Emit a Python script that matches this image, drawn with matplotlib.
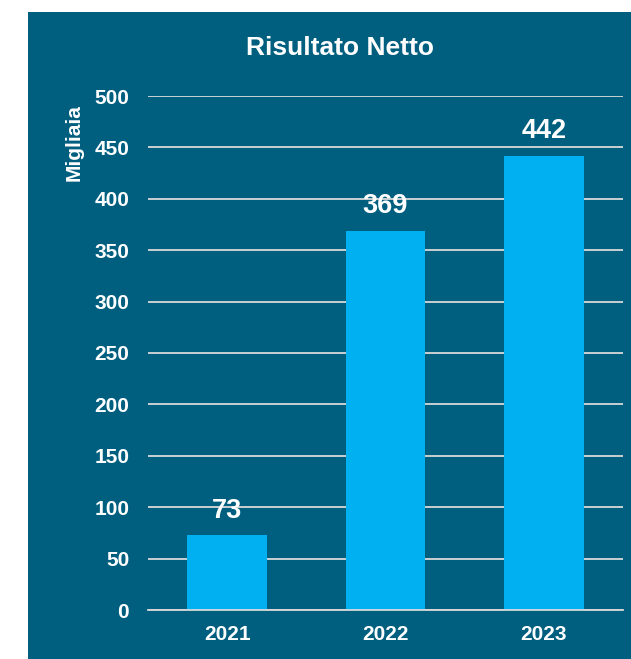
import matplotlib
matplotlib.use('Agg')
import matplotlib.pyplot as plt
from matplotlib.patches import Rectangle

years = ['2021', '2022', '2023']
values = [73, 369, 442]
yticks = [0, 50, 100, 150, 200, 250, 300, 350, 400, 450, 500]

bg = '#005F7F'
bar_color = '#00B0F0'
grid_color = '#D9D9D9'

plt.rcParams['font.family'] = ['Liberation Sans', 'DejaVu Sans']
plt.rcParams['font.weight'] = 'bold'

fig = plt.figure(figsize=(6.31, 6.59), dpi=100)
fig.patch.set_facecolor('white')
# dark panel, leaving the white strip on the left and top
fig.patches.append(Rectangle((28 / 631, 0), 1, 1 - 12 / 659,
                             transform=fig.transFigure, facecolor=bg,
                             edgecolor='none', zorder=-5))

ax = fig.add_axes([148 / 631, 1 - 610 / 659, 475 / 631, 514 / 659])
ax.set_facecolor('none')
ax.set_zorder(2)

x = range(len(years))
ax.bar(x, values, width=0.505, color=bar_color, zorder=2)
for xi, v in zip(x, values):
    ax.annotate(str(v), (xi, v), xytext=(0, 17.5), textcoords='offset points',
                ha='center', va='center', color='white', fontsize=19.5,
                fontweight='bold', zorder=3)

ax.set_xlim(-0.5, 2.5)
ax.set_ylim(0, 500)
ax.set_yticks(yticks)
ax.set_xticks(list(x))
ax.set_xticklabels(years)
ax.tick_params(axis='both', length=0, colors='white', labelsize=15)
ax.tick_params(axis='y', pad=13.5)
ax.tick_params(axis='x', pad=11)
for lab in ax.get_xticklabels() + ax.get_yticklabels():
    lab.set_fontweight('bold')

ax.grid(axis='y', color=grid_color, linewidth=1.3, zorder=1)
ax.set_axisbelow(True)
for s in ['top', 'right', 'left']:
    ax.spines[s].set_visible(False)
ax.spines['bottom'].set_color(grid_color)
ax.spines['bottom'].set_linewidth(1.3)

fig.text(340 / 631, 1 - 48 / 659, 'Risultato Netto', ha='center', va='center',
         color='white', fontsize=19, fontweight='bold')
fig.text(74 / 631, 1 - 143 / 659, 'Migliaia', ha='center', va='center',
         rotation=90, color='white', fontsize=15, fontweight='bold')

fig.savefig('out.png', dpi=100, facecolor=fig.get_facecolor())
